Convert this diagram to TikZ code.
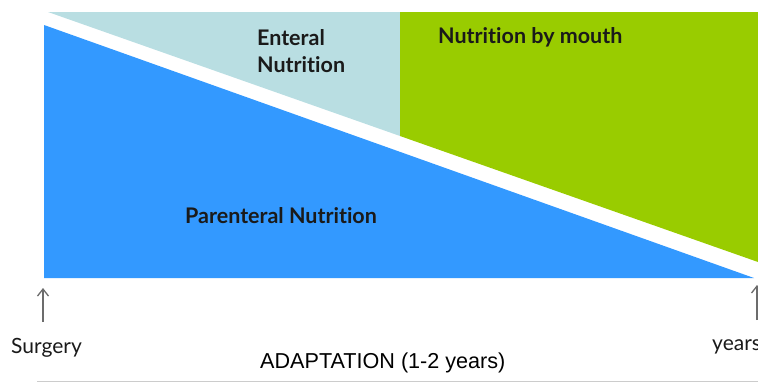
\documentclass[tikz,border=0pt]{standalone}
\usepackage{fontspec}
\setmainfont{Lato}[Ligatures={NoCommon}]
\newfontfamily\arialfont{Liberation Sans}
\usetikzlibrary{arrows.meta}

\definecolor{pnblue}{HTML}{3399FF}
\definecolor{enblue}{HTML}{B9DEE2}
\definecolor{mouthgreen}{HTML}{99CC00}
\definecolor{labeltext}{HTML}{1A1A1A}

\tikzset{
    phase/.style={font=\bfseries\fontsize{21.5}{27}\selectfont, text=labeltext,
        inner sep=0pt, anchor=base west, align=left},
    tick/.style={font=\fontsize{21}{24}\selectfont, text=labeltext,
        inner sep=0pt, anchor=base west},
    marker/.style={draw=gray!85!black, line width=1.3pt,
        -{Straight Barb[length=7pt,width=11pt]}}
}

\begin{document}
\begin{tikzpicture}[x=1pt,y=-1pt]
    \useasboundingbox (0,0) rectangle (758,383);
    \clip (0,0) rectangle (758,383);

    % Draw the three feeding phases
    \fill[enblue] (48,12) -- (400,12) -- (400,136) -- cycle;
    \fill[mouthgreen] (400,12) -- (758,12) -- (758,262) -- (400,136) -- cycle;
    \fill[pnblue] (44,25) -- (44,278) -- (754,278) -- cycle;

    % Add labels
    \node[phase] (enteral) at (257,72) {Enteral\\Nutrition};
    \node[phase] (mouth) at (438,43) {Nutrition by mouth};
    \node[phase] (parenteral) at (185,223) {Parenteral Nutrition};

    % Time axis
    \node[tick] (surgery) at (11,353) {Surgery};
    \node[tick] (years) at (712,350) {years};
    \node[font=\arialfont\fontsize{21.6}{26}\selectfont, inner sep=0pt,
        anchor=base west] (adaptation) at (260,368) {ADAPTATION (1-2 years)};
    \draw[gray!40, line width=1pt] (37,381.5) -- (758,381.5);

    \coordinate (surgtail) at (43,322);
    \coordinate (surgtip) at (43,288);
    \coordinate (yearstail) at (757,320);
    \coordinate (yearstip) at (757,285);
    \draw[marker] (surgtail) -- (surgtip);
    \draw[marker] (yearstail) -- (yearstip);
\end{tikzpicture}
\end{document}
